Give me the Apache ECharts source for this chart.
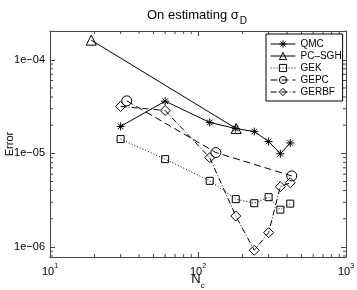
<!DOCTYPE html>
<html><head><meta charset="utf-8">
<script src="https://cdn.jsdelivr.net/npm/echarts@6/dist/echarts.min.js"></script>
<style>html,body{margin:0;padding:0;background:#fff}#c{width:357px;height:290px}</style>
</head><body><div id="c"></div>
<script>
// ---- data ----
const xQMC   = [30, 60, 120, 180, 240, 300, 360, 420];
const yQMC   = [1.94e-5, 3.61e-5, 2.14e-5, 1.84e-5, 1.71e-5, 1.34e-5, 9.9e-6, 1.29e-5];
const xPCSGH = [19, 181];
const yPCSGH = [1.62e-4, 1.84e-5];
const xGEK   = [30, 60, 120, 180, 240, 300, 360, 420];
const yGEK   = [1.42e-5, 8.67e-6, 5.08e-6, 3.24e-6, 2.93e-6, 3.4e-6, 2.5e-6, 2.9e-6];
const xGEPC  = [33, 132, 430];
const yGEPC  = [3.64e-5, 1.02e-5, 5.74e-6];
const xGERBF = [30, 60, 120, 180, 240, 300, 360, 420];
const yGERBF = [3.17e-5, 2.87e-5, 9.0e-6, 2.14e-6, 9.2e-7, 1.42e-6, 4.4e-6, 4.85e-6];
const seriesNames = ['QMC', 'PC\u2013SGH', 'GEK', 'GEPC', 'GERBF'];

// axis ranges and minor tick multipliers
const xMin = 10, xMax = 1000, yMin = 7.8e-7, yMax = 2.03e-4;
const minorMult = [2, 3, 4, 5, 6, 7, 8, 9];
const xDecades = [10, 100];
const yDecades = [1e-7, 1e-6, 1e-5, 1e-4];

const FONT = 'Liberation Sans';
const AX = '#444';
const zip = (a, b) => a.map((v, i) => [v, b[i]]);

const minorData = [];
xDecades.forEach(d => minorMult.forEach(m => minorData.push([d * m, yMin, 0])));
yDecades.forEach(d => minorMult.forEach(m => {
  const v = d * m;
  if (v > yMin * 1.02 && v < yMax * 0.98) minorData.push([xMin, v, 1]);
}));

function renderTick(params, api) {
  const L = 3;
  const st = { stroke: AX, lineWidth: 1 };
  if (api.value(2) === 0) {
    const v = api.value(0);
    const b = api.coord([v, yMin]), t = api.coord([v, yMax]);
    return { type: 'group', children: [
      { type: 'line', shape: { x1: b[0], y1: b[1], x2: b[0], y2: b[1] - L }, style: st },
      { type: 'line', shape: { x1: t[0], y1: t[1], x2: t[0], y2: t[1] + L }, style: st }
    ]};
  } else {
    const v = api.value(1);
    const l = api.coord([xMin, v]), r = api.coord([xMax, v]);
    return { type: 'group', children: [
      { type: 'line', shape: { x1: l[0], y1: l[1], x2: l[0] + L, y2: l[1] }, style: st },
      { type: 'line', shape: { x1: r[0], y1: r[1], x2: r[0] - L, y2: r[1] }, style: st }
    ]};
  }
}

const ASTERISK = 'path://M5,0L5,10M0,5L10,5M1.5,1.5L8.5,8.5M1.5,8.5L8.5,1.5';
const hollow = { color: 'rgba(0,0,0,0)', borderColor: '#000', borderWidth: 1 };

function lineSeries(name, xs, ys, symbol, size, dash) {
  return {
    name: name, type: 'line', data: zip(xs, ys),
    symbol: symbol, symbolSize: size, showAllSymbol: true,
    lineStyle: { color: '#000', width: 1, type: dash },
    itemStyle: hollow,
    emphasis: { disabled: true }, z: 3
  };
}

function expOf(v) { return Math.round(Math.log10(v)); }
function isPow(v) { return Math.abs(Math.log10(v) - expOf(v)) < 1e-6; }

const chart = echarts.init(document.getElementById('c'), null, { renderer: 'canvas' });
chart.setOption({
  animation: false,
  backgroundColor: '#fff',
  title: {
    text: '{a|On estimating }{s|\u03c3}{d|D}',
    left: 192, top: 4, textAlign: 'center',
    textStyle: {
      fontWeight: 'normal',
      rich: {
        a: { fontFamily: FONT, fontSize: 13, fontWeight: 'normal', color: '#000', verticalAlign: 'bottom', padding: [0, 0, 4, 0] },
        s: { fontFamily: FONT, fontSize: 13, fontWeight: 'normal', color: '#000', verticalAlign: 'bottom', padding: [0, 0, 4, 0] },
        d: { fontFamily: FONT, fontSize: 10, fontWeight: 'normal', color: '#000', verticalAlign: 'bottom', padding: [0, 0, 0, 1] }
      }
    }
  },
  grid: { left: 50, right: 11, top: 31, bottom: 33, containLabel: false, outerBoundsMode: 'none' },
  legend: {
    orient: 'vertical', left: 266, top: 34,
    padding: [5, 1, 4, 4], itemGap: 2, itemWidth: 25, itemHeight: 9,
    backgroundColor: '#fff', borderColor: '#000', borderWidth: 1,
    itemStyle: { color: 'rgba(0,0,0,0)', borderColor: '#000', borderWidth: 1 },
    lineStyle: { width: 1, color: '#000' },
    textStyle: { fontFamily: FONT, fontSize: 10, color: '#000' },
    data: seriesNames
  },
  xAxis: [
    {
      type: 'log', logBase: 10, min: xMin, max: xMax, position: 'bottom',
      axisLine: { lineStyle: { color: AX, width: 1 } },
      axisTick: { inside: true, length: 5, lineStyle: { color: AX } },
      splitLine: { show: false },
      axisLabel: {
        margin: 6,
        formatter: v => isPow(v) ? '{b|10}{p|' + expOf(v) + '}' : '',
        rich: {
          b: { fontFamily: FONT, fontSize: 11, color: '#000', verticalAlign: 'bottom' },
          p: { fontFamily: FONT, fontSize: 7, color: '#000', verticalAlign: 'bottom', padding: [0, 0, 7, 0] }
        }
      },
      name: '{n|N}{c|c}', nameLocation: 'middle', nameGap: 16, nameMoveOverlap: false,
      nameTextStyle: {
        verticalAlign: 'top',
        rich: {
          n: { fontFamily: FONT, fontSize: 13, color: '#000', verticalAlign: 'bottom', padding: [0, 0, 4, 0] },
          c: { fontFamily: FONT, fontSize: 8, color: '#000', verticalAlign: 'bottom' }
        }
      }
    },
    {
      type: 'log', logBase: 10, min: xMin, max: xMax, position: 'top',
      axisLine: { lineStyle: { color: AX, width: 1 } },
      axisTick: { inside: true, length: 5, lineStyle: { color: AX } },
      splitLine: { show: false }, axisLabel: { show: false }
    }
  ],
  yAxis: [
    {
      type: 'log', logBase: 10, min: yMin, max: yMax, position: 'left',
      axisLine: { show: true, lineStyle: { color: AX, width: 1 } },
      axisTick: { show: true, inside: true, length: 5, lineStyle: { color: AX } },
      splitLine: { show: false },
      axisLabel: {
        margin: 5, showMinLabel: false, showMaxLabel: false,
        fontFamily: FONT, fontSize: 11, color: '#000',
        formatter: v => {
          if (!isPow(v)) return '';
          const e = expOf(v);
          return '1e' + (e < 0 ? '\u2212' : '+') + String(Math.abs(e)).padStart(2, '0');
        }
      },
      name: 'Error', nameLocation: 'middle', nameGap: 35, nameRotate: 90, nameMoveOverlap: false,
      nameTextStyle: { fontFamily: FONT, fontSize: 11, color: '#000' }
    },
    {
      type: 'log', logBase: 10, min: yMin, max: yMax, position: 'right',
      axisLine: { show: true, lineStyle: { color: AX, width: 1 } },
      axisTick: { show: true, inside: true, length: 5, lineStyle: { color: AX } },
      splitLine: { show: false }, axisLabel: { show: false }
    }
  ],
  series: [
    lineSeries(seriesNames[0], xQMC, yQMC, ASTERISK, 8, 'solid'),
    lineSeries(seriesNames[1], xPCSGH, yPCSGH, 'triangle', 10, 'solid'),
    lineSeries(seriesNames[2], xGEK, yGEK, 'rect', 7, [1, 2]),
    lineSeries(seriesNames[3], xGEPC, yGEPC, 'circle', 10, [7, 4]),
    lineSeries(seriesNames[4], xGERBF, yGERBF, 'diamond', 10, [6, 2, 1, 2]),
    {
      type: 'custom', silent: true, renderItem: renderTick, data: minorData,
      encode: { x: 0, y: 1 }, clip: false, z: 1, tooltip: { show: false }
    }
  ]
});
</script>
</body></html>
